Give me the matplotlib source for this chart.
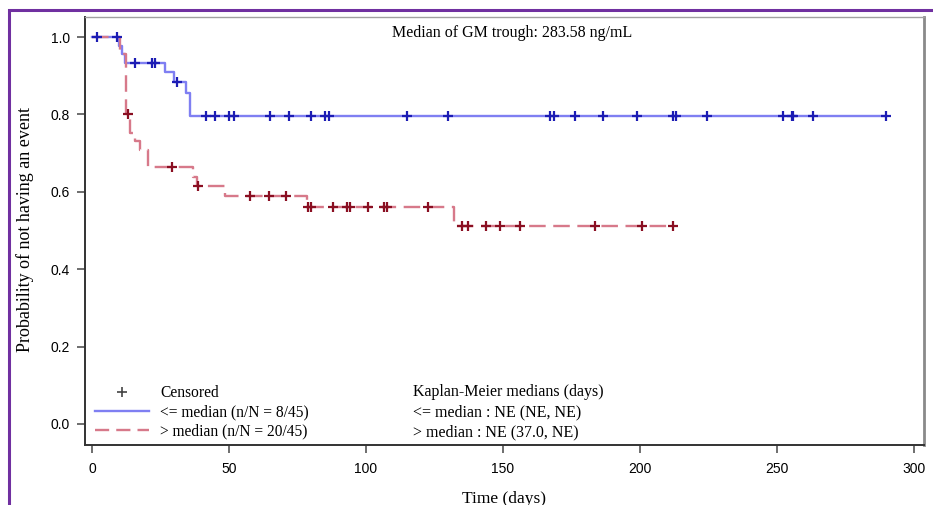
import numpy as np
import matplotlib
matplotlib.use("Agg")
import matplotlib.pyplot as plt
from matplotlib.lines import Line2D
from matplotlib.patches import Rectangle

# <= median group: step times (days) and survival after each step
low_times = [0, 10.0, 11.0, 12.0, 26.6, 30.0, 34.3, 35.8]
low_surv = [1.0, 0.978, 0.956, 0.933, 0.909, 0.884, 0.855, 0.796]
low_end = 289.6
low_censor = [1.7, 9.0, 15.7, 21.8, 23.0, 31.0, 41.6, 44.9, 50.1, 51.8, 65.0, 72.0,
              80.0, 85.0, 86.5, 114.8, 129.8, 167.3, 168.7, 176.2, 186.4, 199.0,
              212.2, 213.1, 224.3, 252.2, 255.4, 256.0, 263.2, 289.6]

# > median group
high_times = [0, 10.2, 12.3, 13.9, 15.7, 17.5, 20.6, 37.0, 38.2, 48.5, 78.4, 132.0]
high_surv = [1.0, 0.956, 0.800, 0.752, 0.730, 0.708, 0.665, 0.639, 0.615, 0.589, 0.561, 0.512]
high_end = 212.2
high_censor = [13.3, 29.1, 38.8, 57.7, 64.7, 70.8, 78.8, 80.0, 88.0, 93.0, 94.2, 100.7,
               106.4, 107.8, 122.7, 135.0, 137.4, 143.8, 148.8, 156.3, 183.6, 200.6, 212.2]

title_text = "Median of GM trough: 283.58 ng/mL"
legend_labels = ["Censored", "<= median (n/N = 8/45)", "> median (n/N = 20/45)"]
km_lines = ["Kaplan-Meier medians (days)", "<= median : NE (NE, NE)", "> median : NE (37.0, NE)"]

blue_line = "#7f7ff2"
blue_mark = "#1c1cb4"
red_line = "#d7798a"
red_mark = "#8a0f22"

serif = ["Liberation Serif", "DejaVu Serif"]
sans = ["Liberation Sans", "DejaVu Sans"]

W, H = 933, 505
fig = plt.figure(figsize=(W / 100, H / 100), dpi=100)
ax = fig.add_axes([85 / W, (H - 445) / H, (924 - 85) / W, (445 - 17) / H])


def censor_y(times, surv, cens):
    idx = np.searchsorted(times, cens, side="right") - 1
    return np.asarray(surv)[idx]


def draw_group(times, surv, end, cens, lc, mc, ls):
    t = list(times) + [end]
    s = list(surv) + [surv[-1]]
    ln, = ax.step(t, s, where="post", color=lc, lw=1.7, zorder=2)
    if ls == "dashed":
        ln.set_dashes([7, 3.2])
    ax.plot(cens, censor_y(times, surv, cens), linestyle="none", marker="+",
            markersize=7, mew=1.6, color=mc, zorder=3)


draw_group(low_times, low_surv, low_end, low_censor, blue_line, blue_mark, "solid")
draw_group(high_times, high_surv, high_end, high_censor, red_line, red_mark, "dashed")

ax.set_xlim(-2.55, 303.65)
ax.set_ylim(-0.0543, 1.0517)
ax.set_xticks(np.arange(0, 301, 50))
ax.set_yticks(np.arange(0, 1.01, 0.2))
ax.set_yticklabels([f"{v:.1f}" for v in np.arange(0, 1.01, 0.2)])
ax.tick_params(axis="both", length=6, width=1.2, color="#555555", labelsize=10,
               direction="out")
ax.tick_params(axis="x", pad=6)
ax.tick_params(axis="y", pad=5)
for lab in ax.get_xticklabels() + ax.get_yticklabels():
    lab.set_family(sans)

for side in ["left", "bottom"]:
    ax.spines[side].set_color("#333333")
    ax.spines[side].set_linewidth(1.4)
ax.spines["top"].set_color("#a0a0a0")
ax.spines["top"].set_linewidth(1.0)
ax.spines["right"].set_color("#8a8a8a")
ax.spines["right"].set_linewidth(2.0)

fig.text(512 / W, 1 - 33 / H, title_text, ha="center", va="center",
         fontsize=11.5, family=serif)

fig.text(25 / W, 1 - 230 / H, "Probability of not having an event", rotation=90,
         ha="center", va="center", fontsize=13, family=serif)
fig.text(504 / W, 1 - 491 / H, "Time (days)", ha="center", va="top",
         fontsize=12.5, family=serif)

handles = [
    Line2D([], [], linestyle="none", marker="+", markersize=7, mew=1.2, color="#444444"),
    Line2D([], [], color=blue_line, lw=1.7),
    Line2D([], [], color=red_line, lw=1.7, dashes=[6, 3]),
]
leg = ax.legend(handles, legend_labels, loc="upper left",
                bbox_to_anchor=(95 / W, 1 - 385 / H), bbox_transform=fig.transFigure,
                frameon=False, handlelength=3.5, handletextpad=0.7,
                labelspacing=0.2, borderpad=0, borderaxespad=0,
                prop={"family": serif, "size": 11.2})

for i, line in enumerate(km_lines):
    fig.text(413 / W, 1 - (392 + 20 * i) / H, line, ha="left", va="center",
             fontsize=11.5, family=serif)

# purple outer border
fig.patches.append(Rectangle((9 / W, -0.1), 1.2, 1 - 10 / H + 0.1,
                             transform=fig.transFigure, fill=False,
                             edgecolor="#7030a0", lw=2.2))

fig.savefig("out.png", dpi=100)
